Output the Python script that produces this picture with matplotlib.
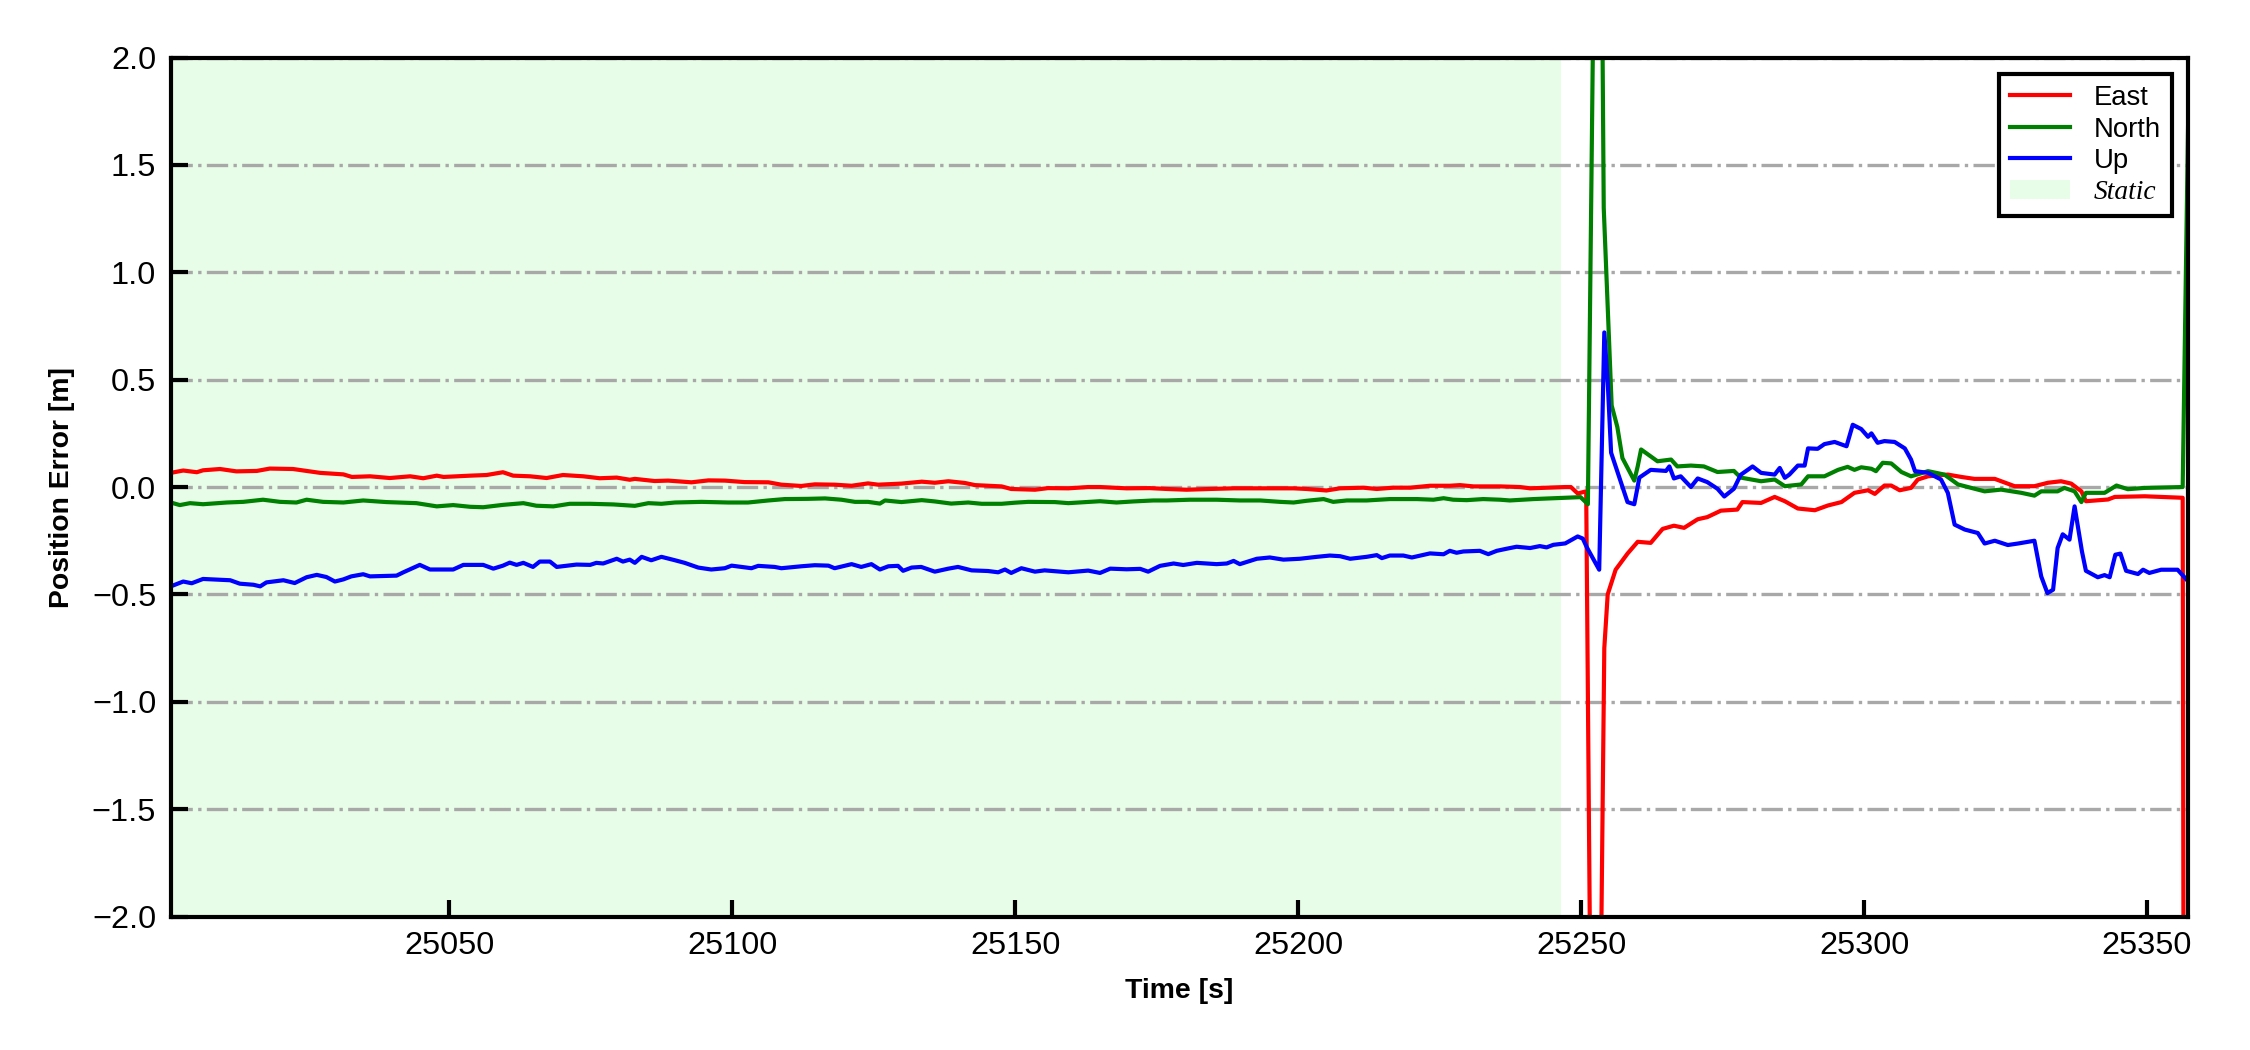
import matplotlib
matplotlib.use("Agg")
import matplotlib.pyplot as plt
from matplotlib.patches import Patch
from matplotlib.lines import Line2D

plt.rcParams['font.family'] = ['Liberation Sans', 'DejaVu Sans']
plt.rcParams['axes.unicode_minus'] = True

# ---------------- data ----------------
t_east = [25000.8, 25003.0, 25005.4, 25006.5, 25009.5, 25012.4, 25016.0, 25018.3, 25022.4, 25027.2,
          25031.3, 25032.8, 25036.0, 25039.5, 25043.1, 25045.4, 25047.8, 25049.0, 25053.7, 25056.6,
          25059.5, 25061.3, 25064.3, 25067.2, 25070.1, 25073.7, 25076.6, 25079.6, 25081.9, 25082.8,
          25086.3, 25088.7, 25092.8, 25095.8, 25098.7, 25102.2, 25106.4, 25108.7, 25112.2, 25114.6,
          25118.1, 25121.1, 25124.0, 25125.8, 25129.9, 25133.5, 25135.8, 25138.2, 25141.1, 25142.9,
          25147.6, 25149.3, 25153.5, 25155.8, 25159.4, 25162.9, 25165.0, 25169.7, 25173.8, 25176.8,
          25180.3, 25184.4, 25188.6, 25194.4, 25199.2, 25201.5, 25205.0, 25207.4, 25211.5, 25213.9,
          25216.8, 25219.8, 25223.3, 25226.8, 25228.6, 25231.0, 25235.7, 25239.2, 25241.0, 25247.2,
          25248.2, 25249.4, 25250.9, 25252.0, 25253.0, 25254.1, 25254.7, 25256.1, 25258.2, 25260.0,
          25262.3, 25264.4, 25266.4, 25268.2, 25270.6, 25272.3, 25274.7, 25277.6, 25278.5, 25281.8,
          25284.2, 25286.0, 25288.3, 25291.3, 25293.6, 25296.0, 25298.3, 25300.7, 25301.9, 25303.6,
          25304.8, 25306.3, 25308.3, 25309.5, 25311.3, 25314.8, 25317.2, 25319.5, 25323.1, 25326.6,
          25330.1, 25332.5, 25334.8, 25336.6, 25338.4, 25339.2, 25343.1, 25344.3, 25349.6, 25356.3,
          25357.3]
east = [0.066, 0.077, 0.069, 0.078, 0.084, 0.073, 0.075, 0.086, 0.084, 0.066,
        0.059, 0.047, 0.050, 0.042, 0.050, 0.041, 0.053, 0.047, 0.053, 0.056,
        0.069, 0.053, 0.050, 0.042, 0.056, 0.050, 0.041, 0.044, 0.034, 0.038,
        0.028, 0.030, 0.022, 0.031, 0.030, 0.023, 0.022, 0.011, 0.005, 0.0125,
        0.011, 0.006, 0.017, 0.011, 0.016, 0.025, 0.020, 0.027, 0.019, 0.009,
        0.003, -0.009, -0.0125, -0.005, -0.006, 0.0, 0.0, -0.006, -0.005, -0.009,
        -0.0125, -0.009, -0.006, -0.006, -0.006, -0.009, -0.016, -0.006, -0.003, -0.009,
        -0.003, -0.003, 0.006, 0.006, 0.009, 0.003, 0.003, 0.0, -0.006, 0.0,
        0.0, -0.03, -0.02, -3.5, -3.5, -0.75, -0.50, -0.385, -0.31, -0.255,
        -0.26, -0.195, -0.18, -0.19, -0.15, -0.14, -0.11, -0.105, -0.07, -0.074,
        -0.046, -0.066, -0.10, -0.108, -0.086, -0.07, -0.027, -0.015, -0.032, 0.007,
        0.007, -0.015, -0.004, 0.035, 0.05, 0.058, 0.047, 0.038, 0.038, 0.004,
        0.004, 0.02, 0.027, 0.016, -0.02, -0.066, -0.058, -0.046, -0.043, -0.05,
        -15.0]

t_north = [25000.8, 25002.4, 25004.2, 25006.5, 25010.7, 25013.6, 25017.1, 25020.1, 25023.0, 25024.8,
           25027.7, 25031.3, 25034.8, 25038.9, 25044.2, 25047.8, 25050.7, 25053.7, 25056.0, 25059.5,
           25063.1, 25065.4, 25068.4, 25071.3, 25074.9, 25079.0, 25082.8, 25085.2, 25087.5, 25089.9,
           25094.6, 25099.3, 25102.8, 25106.4, 25109.3, 25113.4, 25116.4, 25119.3, 25121.7, 25124.0,
           25126.1, 25127.0, 25129.9, 25133.5, 25135.8, 25138.7, 25141.7, 25144.1, 25147.6, 25149.9,
           25152.3, 25157.0, 25159.4, 25165.0, 25167.9, 25170.9, 25174.4, 25176.8, 25180.9, 25185.6,
           25189.7, 25193.3, 25196.8, 25199.2, 25201.5, 25204.5, 25206.2, 25208.6, 25212.1, 25216.2,
           25221.0, 25223.9, 25225.7, 25227.4, 25229.8, 25232.7, 25235.7, 25237.4, 25241.6, 25247.2,
           25249.9, 25251.2, 25253.1, 25254.0, 25255.4, 25256.4, 25257.3, 25259.4, 25260.0, 25260.6,
           25262.3, 25263.5, 25265.9, 25267.0, 25269.4, 25271.7, 25274.1, 25277.0, 25278.2, 25281.8,
           25284.2, 25286.0, 25288.9, 25290.1, 25293.0, 25295.4, 25297.1, 25298.3, 25299.5, 25301.3,
           25302.1, 25303.3, 25304.8, 25306.6, 25308.3, 25311.3, 25314.2, 25316.6, 25321.3, 25324.2,
           25327.8, 25330.1, 25331.3, 25334.2, 25335.4, 25337.2, 25338.4, 25339.2, 25342.5, 25344.6,
           25346.6, 25349.6, 25356.3, 25357.3]
north = [-0.072, -0.084, -0.075, -0.080, -0.072, -0.069, -0.059, -0.069, -0.072, -0.059,
         -0.069, -0.072, -0.0625, -0.070, -0.075, -0.090, -0.084, -0.092, -0.094, -0.083,
         -0.075, -0.087, -0.090, -0.078, -0.078, -0.081, -0.0875, -0.075, -0.078, -0.072,
         -0.069, -0.072, -0.072, -0.0625, -0.056, -0.055, -0.053, -0.059, -0.069, -0.069,
         -0.077, -0.0625, -0.070, -0.061, -0.067, -0.077, -0.072, -0.078, -0.078, -0.073,
         -0.069, -0.070, -0.075, -0.066, -0.072, -0.067, -0.0625, -0.0625, -0.059, -0.059,
         -0.0625, -0.0625, -0.069, -0.072, -0.064, -0.056, -0.069, -0.0625, -0.0625, -0.056,
         -0.056, -0.059, -0.052, -0.059, -0.061, -0.056, -0.059, -0.0625, -0.056, -0.050,
         -0.047, -0.08, 4.5, 1.3, 0.38, 0.28, 0.135, 0.03, 0.096, 0.175,
         0.143, 0.12, 0.128, 0.096, 0.10, 0.096, 0.07, 0.075, 0.044, 0.027,
         0.035, 0.004, 0.012, 0.05, 0.05, 0.08, 0.094, 0.08, 0.092, 0.085,
         0.074, 0.113, 0.11, 0.07, 0.05, 0.074, 0.058, 0.012, -0.02, -0.012,
         -0.027, -0.04, -0.02, -0.02, -0.004, -0.02, -0.07, -0.027, -0.027, 0.007,
         -0.01, -0.004, 0.0, 1.77]

t_up = [25000.8, 25003.0, 25004.5, 25006.5, 25011.3, 25013.0, 25015.4, 25016.6, 25017.7, 25020.7,
        25022.7, 25024.8, 25026.6, 25028.3, 25029.8, 25031.3, 25032.7, 25034.8, 25036.0, 25040.7,
        25041.9, 25044.8, 25046.6, 25050.7, 25052.5, 25056.0, 25057.8, 25059.5, 25060.7, 25061.9,
        25063.1, 25064.8, 25066.0, 25067.8, 25069.0, 25072.5, 25074.9, 25076.0, 25077.2, 25079.6,
        25080.7, 25081.9, 25082.8, 25084.0, 25085.7, 25087.5, 25089.9, 25091.6, 25094.0, 25096.3,
        25098.7, 25099.9, 25103.4, 25104.6, 25107.5, 25108.7, 25112.2, 25114.6, 25117.0, 25118.1,
        25121.1, 25122.8, 25124.6, 25126.1, 25127.6, 25129.3, 25130.2, 25131.7, 25133.4, 25135.8,
        25138.2, 25139.9, 25142.3, 25145.2, 25147.0, 25148.2, 25149.3, 25151.1, 25153.5, 25155.2,
        25159.4, 25162.9, 25165.0, 25166.8, 25169.7, 25172.1, 25173.5, 25175.6, 25178.0, 25179.7,
        25182.1, 25183.8, 25185.6, 25187.4, 25188.6, 25189.7, 25192.7, 25195.0, 25197.4, 25200.3,
        25203.3, 25205.6, 25207.4, 25209.2, 25212.1, 25213.9, 25214.8, 25216.2, 25218.6, 25220.1,
        25223.3, 25225.7, 25226.8, 25228.0, 25229.2, 25232.1, 25233.6, 25235.1, 25236.8, 25238.6,
        25241.0, 25242.7, 25243.9, 25245.1, 25247.2, 25249.4, 25250.3, 25251.0, 25253.2, 25254.1,
        25254.7, 25255.3, 25258.2, 25259.4, 25260.3, 25262.3, 25265.0, 25265.6, 25266.4, 25267.6,
        25269.4, 25270.6, 25272.3, 25274.1, 25275.3, 25277.0, 25278.2, 25280.3, 25281.8, 25284.2,
        25285.1, 25286.0, 25286.8, 25288.3, 25289.5, 25290.1, 25291.8, 25293.0, 25294.8, 25296.9,
        25298.0, 25299.5, 25300.7, 25301.3, 25302.4, 25303.6, 25305.4, 25307.2, 25308.3, 25309.0,
        25311.3, 25313.6, 25314.8, 25316.0, 25317.8, 25320.1, 25321.3, 25323.1, 25325.4, 25327.2,
        25330.1, 25331.3, 25332.4, 25333.4, 25334.2, 25335.1, 25336.3, 25337.2, 25338.5, 25339.2,
        25341.3, 25342.5, 25343.4, 25344.4, 25345.3, 25346.3, 25348.4, 25349.3, 25350.4, 25352.5,
        25355.4, 25357.3]
up = [-0.4625, -0.44, -0.448, -0.428, -0.434, -0.45, -0.455, -0.4625, -0.444, -0.434,
      -0.447, -0.42, -0.409, -0.419, -0.44, -0.430, -0.416, -0.406, -0.416, -0.4125,
      -0.397, -0.3625, -0.384, -0.384, -0.3625, -0.3625, -0.38, -0.366, -0.352, -0.3625,
      -0.353, -0.372, -0.347, -0.347, -0.372, -0.361, -0.3625, -0.353, -0.356, -0.334,
      -0.347, -0.338, -0.353, -0.325, -0.341, -0.325, -0.341, -0.353, -0.375, -0.384,
      -0.378, -0.366, -0.378, -0.367, -0.372, -0.378, -0.369, -0.364, -0.366, -0.378,
      -0.359, -0.372, -0.359, -0.384, -0.369, -0.367, -0.39, -0.375, -0.372, -0.394,
      -0.380, -0.372, -0.388, -0.391, -0.397, -0.384, -0.400, -0.378, -0.394, -0.388,
      -0.397, -0.389, -0.400, -0.380, -0.383, -0.381, -0.394, -0.367, -0.356, -0.363,
      -0.353, -0.356, -0.359, -0.356, -0.344, -0.359, -0.334, -0.328, -0.338, -0.334,
      -0.325, -0.319, -0.322, -0.334, -0.325, -0.317, -0.331, -0.319, -0.319, -0.328,
      -0.309, -0.313, -0.297, -0.306, -0.300, -0.297, -0.3125, -0.297, -0.2875, -0.278,
      -0.284, -0.275, -0.281, -0.269, -0.2625, -0.23, -0.24, -0.28, -0.385, 0.72,
      0.49, 0.16, -0.07, -0.08, 0.044, 0.08, 0.075, 0.096, 0.04, 0.05,
      0.0, 0.04, 0.023, -0.008, -0.044, -0.008, 0.057, 0.096, 0.066, 0.058,
      0.089, 0.043, 0.058, 0.10, 0.10, 0.18, 0.178, 0.20, 0.21, 0.19,
      0.29, 0.27, 0.234, 0.25, 0.206, 0.214, 0.21, 0.18, 0.128, 0.074,
      0.066, 0.035, -0.027, -0.175, -0.198, -0.214, -0.263, -0.25, -0.27, -0.263,
      -0.25, -0.416, -0.494, -0.478, -0.284, -0.22, -0.245, -0.09, -0.30, -0.39,
      -0.42, -0.41, -0.42, -0.315, -0.31, -0.39, -0.405, -0.385, -0.40, -0.385,
      -0.385, -0.44]

static_start = 25000.8
static_end = 25246.5
x_limits = [25000.8, 25357.3]
y_limits = [-2.0, 2.0]
y_ticks = [-2.0, -1.5, -1.0, -0.5, 0.0, 0.5, 1.0, 1.5, 2.0]
x_ticks = [25050, 25100, 25150, 25200, 25250, 25300, 25350]
series_labels = ['East', 'North', 'Up', 'Static']

# ---------------- plot ----------------
fig = plt.figure(figsize=(7.5, 3.5), dpi=300)
ax = fig.add_axes([0.0759, 0.1271, 0.8967, 0.8181])

static_color = '#e8fde8'
ax.axvspan(static_start, static_end, color=static_color, lw=0, zorder=0.5)

ax.plot(t_east, east, color='r', lw=1.0, label=series_labels[0], zorder=2)
ax.plot(t_north, north, color='g', lw=1.0, label=series_labels[1], zorder=2)
ax.plot(t_up, up, color='b', lw=1.0, label=series_labels[2], zorder=2)

ax.set_xlim(x_limits)
ax.set_ylim(y_limits)
ax.set_xticks(x_ticks)
ax.set_yticks(y_ticks)
ax.yaxis.grid(True, linestyle='-.', color='#a8a8a8', lw=0.8, zorder=1)
ax.xaxis.grid(False)

ax.tick_params(axis='both', direction='in', length=4, width=1.0, labelsize=7.8,
               top=False, right=False, pad=3.5)
for s in ax.spines.values():
    s.set_linewidth(1.0)
    s.set_color('black')

ax.set_xlabel('Time [s]', fontsize=6.8, fontweight='bold', labelpad=4)
ax.set_ylabel('Position Error [m]', fontsize=6.8, fontweight='bold', labelpad=4)

handles = [Line2D([], [], color='r', lw=1.0),
           Line2D([], [], color='g', lw=1.0),
           Line2D([], [], color='b', lw=1.0),
           Patch(facecolor=static_color, edgecolor='none')]
leg = ax.legend(handles, series_labels, loc='upper right', fontsize=6.6,
                frameon=True, fancybox=False, framealpha=1, edgecolor='black',
                labelspacing=0.2, borderpad=0.4, handlelength=2.2,
                handletextpad=0.85, borderaxespad=0.6)
leg.get_frame().set_linewidth(1.0)
st = leg.get_texts()[3]
st.set_fontfamily(['Liberation Serif', 'DejaVu Serif'])
st.set_fontstyle('italic')

fig.savefig('out.png', dpi=300)
